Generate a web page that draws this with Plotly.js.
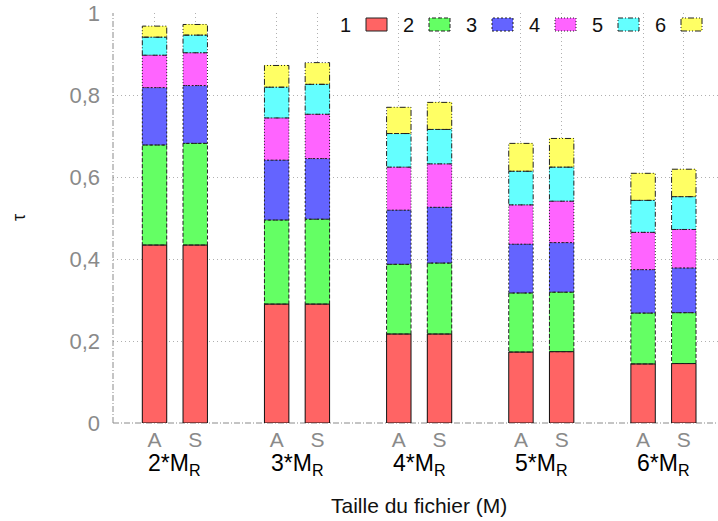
<!DOCTYPE html>
<html>
<head>
<meta charset="utf-8">
<script src="https://cdn.plot.ly/plotly-3.0.1.min.js"></script>
<style>
  html, body { margin: 0; padding: 0; background: #fff; }
  #chart { width: 718px; height: 521px; }
</style>
</head>
<body>
<div id="chart"></div>
<script>
// File sizes (multiples of M_R) and the two methods compared for each size
const sizes = ['2', '3', '4', '5', '6'];
const methods = ['A', 'S'];

// Stacked shares per level, one value per bar: 2A, 2S, 3A, 3S, ... 6A, 6S
const level1 = [0.434, 0.434, 0.290, 0.290, 0.217, 0.217, 0.173, 0.174, 0.144, 0.145];
const level2 = [0.244, 0.248, 0.205, 0.207, 0.170, 0.173, 0.144, 0.145, 0.124, 0.124];
const level3 = [0.140, 0.141, 0.146, 0.148, 0.132, 0.136, 0.119, 0.121, 0.106, 0.109];
const level4 = [0.079, 0.080, 0.103, 0.108, 0.105, 0.106, 0.096, 0.101, 0.091, 0.094];
const level5 = [0.044, 0.043, 0.075, 0.073, 0.082, 0.084, 0.082, 0.083, 0.078, 0.080];
const level6 = [0.027, 0.026, 0.053, 0.053, 0.064, 0.066, 0.068, 0.070, 0.066, 0.067];

const levelNames = ['1', '2', '3', '4', '5', '6'];
const yTickVals = [0, 0.2, 0.4, 0.6, 0.8, 1];
const yTickText = ['0', '0,2', '0,4', '0,6', '0,8', '1'];

const levels = [level1, level2, level3, level4, level5, level6];
const fills = ['#ff6464', '#64ff64', '#6464ff', '#ff64ff', '#64ffff', '#ffff64'];
const outlineDash = ['solid', '4px,2px', '2px,2px', '1px,2px', '5px,2px,1px,2px', '6px,2px,1px,2px,1px,2px'];

// Bar positions: two bars per size, one empty slot between groups
const xPos = [];
const xLabels = [];
sizes.forEach((s, g) => methods.forEach((m, k) => { xPos.push(g * 3 + k); xLabels.push(m); }));

const BAR_W = 0.6;
const FONT = 'Liberation Sans, Arial, Helvetica, sans-serif';

// Plot frame in pixels, used to place the hand-made legend
const M = { l: 113, r: 0, t: 13, b: 98 };
const W = 718, H = 521;
const PW = W - M.l - M.r, PH = H - M.t - M.b;
const px = v => (v - M.l) / PW;
const py = v => (H - M.b - v) / PH;

const traces = levels.map((vals, i) => ({
  type: 'bar',
  x: xPos,
  y: vals,
  width: BAR_W,
  name: levelNames[i],
  marker: { color: fills[i], line: { width: 0 } },
  hoverinfo: 'skip',
  showlegend: false
}));

// Dashed outline for each stacked segment, built from the same values
const shapes = [];
const base = xPos.map(() => 0);
levels.forEach((vals, i) => {
  vals.forEach((v, j) => {
    shapes.push({
      type: 'rect', xref: 'x', yref: 'y', layer: 'above',
      x0: xPos[j] - BAR_W / 2, x1: xPos[j] + BAR_W / 2,
      y0: base[j], y1: base[j] + v,
      line: { color: i === 0 ? '#111' : '#222', width: 1, dash: outlineDash[i] }
    });
    base[j] += v;
  });
});

// Left and bottom border, dash-dotted grey
shapes.push({ type: 'line', xref: 'paper', yref: 'paper', x0: 0, x1: 0, y0: 0, y1: 1,
  line: { color: '#8a8a8a', width: 1, dash: '6px,2px,1px,2px' }, layer: 'above' });
shapes.push({ type: 'line', xref: 'paper', yref: 'paper', x0: 0, x1: 1, y0: 0, y1: 0,
  line: { color: '#8a8a8a', width: 1, dash: '6px,2px,1px,2px' }, layer: 'below' });

const annotations = [];

// Legend: label first, then swatch
const legendSwatchX = [366, 429, 492, 555, 618, 681];
levelNames.forEach((n, i) => {
  const x0 = legendSwatchX[i];
  shapes.push({ type: 'rect', xref: 'paper', yref: 'paper',
    x0: px(x0), x1: px(x0 + 21), y0: py(31), y1: py(18),
    fillcolor: fills[i], line: { color: '#222', width: 1, dash: outlineDash[i] }, layer: 'above' });
  annotations.push({ xref: 'paper', yref: 'paper', x: px(x0 - 13), y: py(25),
    xanchor: 'right', yanchor: 'middle', showarrow: false, text: n,
    font: { family: FONT, size: 20, color: '#111' } });
});

// Group labels under each pair of bars
sizes.forEach((s, g) => {
  annotations.push({ xref: 'x', yref: 'paper', x: g * 3 + 0.5, y: py(448),
    xanchor: 'center', yanchor: 'top', showarrow: false,
    text: s + '*M<sub>R</sub>', font: { family: FONT, size: 23, color: '#000' } });
});

// Axis titles
annotations.push({ xref: 'paper', yref: 'paper', x: px(419), y: py(505),
  xanchor: 'center', yanchor: 'middle', showarrow: false,
  text: 'Taille du fichier (M)', font: { family: FONT, size: 21, color: '#111' } });
annotations.push({ xref: 'paper', yref: 'paper', x: px(19), y: py(218),
  xanchor: 'center', yanchor: 'middle', showarrow: false, textangle: -90,
  text: 'τ', font: { family: FONT, size: 18, color: '#111' } });

const layout = {
  width: W, height: H,
  margin: M,
  paper_bgcolor: '#fff', plot_bgcolor: '#fff',
  barmode: 'stack',
  font: { family: FONT },
  showlegend: false,
  xaxis: {
    range: [-1.02, 13.84],
    tickvals: xPos, ticktext: xLabels,
    tickfont: { family: FONT, size: 21, color: '#8a8a8a' },
    ticks: '', showline: false, zeroline: false,
    showgrid: true, gridcolor: '#b0b0b0', gridwidth: 1, griddash: '1px,3px',
    ticklabelstandoff: 2,
    fixedrange: true
  },
  yaxis: {
    range: [0, 1],
    tickvals: yTickVals, ticktext: yTickText,
    tickfont: { family: FONT, size: 22, color: '#8a8a8a' },
    ticks: '', showline: false, zeroline: false,
    showgrid: true, gridcolor: '#b0b0b0', gridwidth: 1, griddash: '1px,3px',
    ticklabelstandoff: 12,
    fixedrange: true
  },
  shapes: shapes,
  annotations: annotations
};

Plotly.newPlot('chart', traces, layout, { displayModeBar: false, staticPlot: true });
</script>
</body>
</html>
